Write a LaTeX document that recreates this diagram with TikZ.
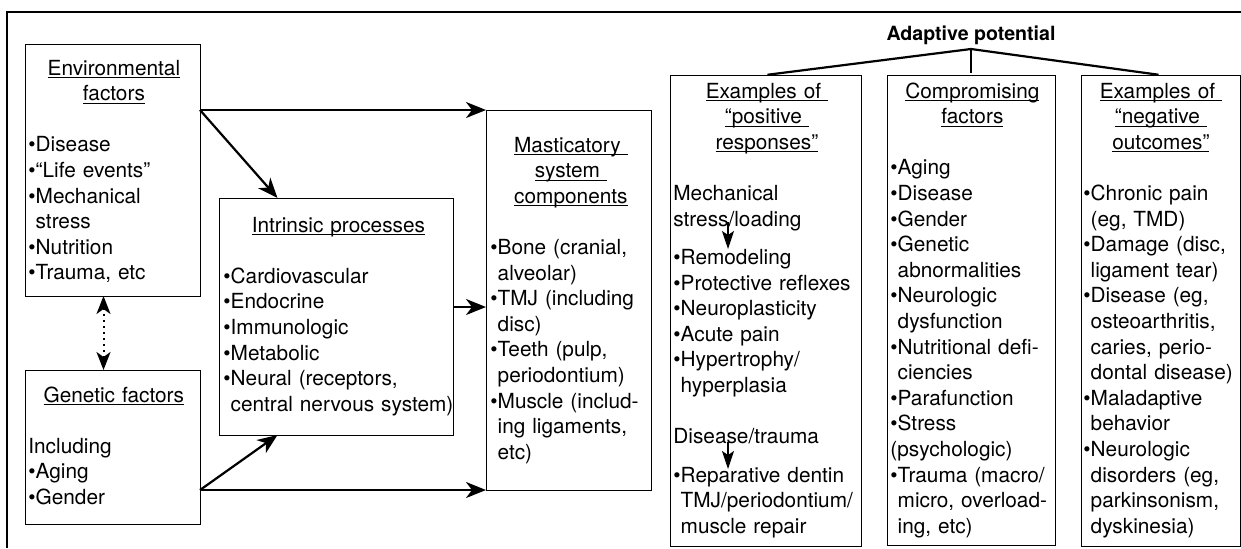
\documentclass[tikz,border=0pt]{standalone}
\usepackage{fontspec}
\setmainfont{TeX Gyre Heros}
\usepackage{tikz}
\usetikzlibrary{arrows.meta,positioning,calc}

\newcommand{\itm}{\textbullet}
\newcommand{\cont}{\hphantom{\textbullet}}
\newcommand{\uln}[1]{\leavevmode\setbox0\hbox{#1}\rlap{\rule[-1.5pt]{\wd0}{0.5pt}}\box0}

\begin{document}
\begin{tikzpicture}[x=0.5pt,y=-0.5pt,
	box/.style={draw, line width=0.5pt, inner sep=0pt, outer sep=0pt, anchor=north west},
	txt/.style={inner sep=0pt, anchor=base west, align=left, font=\fontsize{10.4}{12.8}\selectfont},
	arr/.style={-{Stealth[length=10pt,width=8pt,inset=3pt]}, line width=1.1pt},
	tiparr/.style={-{Stealth[length=9pt,width=6pt,inset=2pt]}, line width=0.6pt},
	dotarr/.style={<->, >={Stealth[length=9pt,width=7pt,inset=2.5pt]}, line width=1pt, dash pattern=on 1pt off 2pt},
	branch/.style={line width=1.1pt, shorten >=1pt}]
		\useasboundingbox (0,0) rectangle (1241,548);
		\draw[line width=0.6pt] (1241,12) -- (7,12) -- (7,548);

		% boxes
		\node[box, minimum width=87.5pt, minimum height=126pt] (env) at (25,44) {};
		\node[box, minimum width=87.5pt, minimum height=77pt] (gen) at (25,370) {};
		\node[box, minimum width=117pt, minimum height=118.5pt] (intr) at (219,198) {};
		\node[box, minimum width=82.5pt, minimum height=190pt] (mast) at (486,110) {};
		\node[box, minimum width=95.5pt, minimum height=235.5pt] (pos) at (670,75) {};
		\node[box, minimum width=84pt, minimum height=235pt] (comp) at (887,75) {};
		\node[box, minimum width=79.5pt, minimum height=235.5pt] (neg) at (1081,75) {};

		% texts
		\node[txt, text width=85.5pt] (envtxt) at ($(env.north west)+(3,31)$) {{\centering\uln{Environmental}\\\uln{factors}\par}\vspace{12.8pt}\itm Disease\\\itm “Life events”\\\itm Mechanical\\\cont stress\\\itm Nutrition\\\itm Trauma, etc};
		\node[txt, text width=85.5pt] (gentxt) at ($(gen.north west)+(3,32)$) {{\centering\uln{Genetic factors}\par}\vspace{12.8pt}Including\\\itm Aging\\\itm Gender};
		\node[txt, text width=115pt] (intrtxt) at ($(intr.north west)+(4,34)$) {{\centering\uln{Intrinsic processes}\par}\vspace{12.8pt}\itm Cardiovascular\\\itm Endocrine\\\itm Immunologic\\\itm Metabolic\\\itm Neural (receptors,\\\cont central nervous system)};
		\node[txt, text width=80.5pt] (masttxt) at ($(mast.north west)+(4,42)$) {{\centering\uln{Masticatory\ }\\\uln{system\ }\\\uln{components}\par}\vspace{12.8pt}\itm Bone (cranial,\\\cont alveolar)\\\itm TMJ (including\\\cont disc)\\\itm Teeth (pulp,\\\cont periodontium)\\\itm Muscle (includ-\\\cont ing ligaments,\\\cont etc)};
		\node[txt, text width=93.5pt] (postxt) at ($(pos.north west)+(3,23)$) {{\centering\uln{Examples of\ }\\\uln{“positive\ }\\\uln{responses”}\par}\vspace{12.8pt}Mechanical\\stress/loading\\[6.4pt]\itm Remodeling\\\itm Protective reflexes\\\itm Neuroplasticity\\\itm Acute pain\\\itm Hypertrophy/\\\cont hyperplasia\\[12.8pt]Disease/trauma\\[6.4pt]\itm Reparative dentin\\\cont TMJ/periodontium/\\\cont muscle repair};
		\node[txt, text width=82pt] (comptxt) at ($(comp.north west)+(3,23)$) {{\centering\uln{Compromising}\\\uln{factors}\par}\vspace{12.8pt}\itm Aging\\\itm Disease\\\itm Gender\\\itm Genetic\\\cont abnormalities\\\itm Neurologic\\\cont dysfunction\\\itm Nutritional defi-\\\cont ciencies\\\itm Parafunction\\\itm Stress\\(psychologic)\\\itm Trauma (macro/\\\cont micro, overload-\\\cont ing, etc)};
		\node[txt, text width=77.5pt] (negtxt) at ($(neg.north west)+(2,23)$) {{\centering\uln{Examples of\ }\\\uln{“negative\ }\\\uln{outcomes”}\par}\vspace{12.8pt}\itm Chronic pain\\\cont (eg, TMD)\\\itm Damage (disc,\\\cont ligament tear)\\\itm Disease (eg,\\\cont osteoarthritis,\\\cont caries, perio-\\\cont dontal disease)\\\itm Maladaptive\\\cont behavior\\\itm Neurologic\\\cont disorders (eg,\\\cont parkinsonism,\\\cont dyskinesia)};

		% adaptive potential
		\node[inner sep=0pt, anchor=base, font=\bfseries\fontsize{9.8}{12}\selectfont] (adapt) at (971,40) {Adaptive potential};
		\coordinate (apex) at (comp.north |- 0,49);
		\draw[branch] (apex) -- (pos.north);
		\draw[branch] (apex) -- (comp.north);
		\draw[branch] (apex) -- (neg.north);

		% connectors
		\coordinate (envout) at (env.east |- mast.north west);
		\coordinate (genout) at (gen.east |- mast.south west);
		\coordinate (introut) at (intr.east |- 0,307);
		\draw[arr] (envout) -- (mast.north west);
		\draw[arr] (envout) -- ($(intr.north west)!0.25!(intr.north east)$);
		\draw[arr] (introut) -- (introut -| mast.west);
		\draw[arr] (genout) -- ($(intr.south west)!0.25!(intr.south east)$);
		\draw[arr] (genout) -- (mast.south west);
		\draw[dotarr] ($(env.south)+(-9,0)$) -- ($(gen.north)+(-9,0)$);

		\coordinate (mech) at (728,222);
		\coordinate (remod) at (728,249);
		\coordinate (dis) at (728,442);
		\coordinate (repar) at (728,469);
		\draw[tiparr] (mech) -- (remod);
		\draw[tiparr] (dis) -- (repar);
	\end{tikzpicture}
\end{document}
